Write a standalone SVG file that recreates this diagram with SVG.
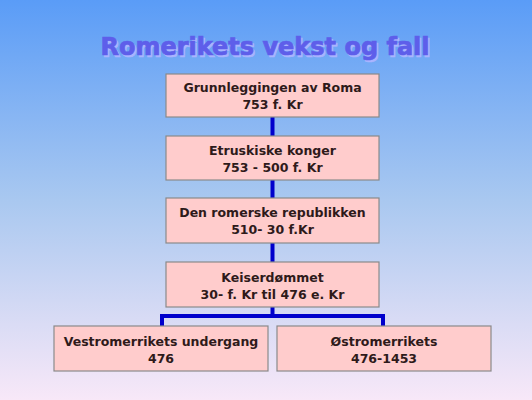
<svg xmlns="http://www.w3.org/2000/svg" width="532" height="400" viewBox="0 0 532 400">
<defs>
<linearGradient id="bg" x1="0" y1="0" x2="0" y2="1">
<stop offset="0" stop-color="#5a9cf7"/>
<stop offset="0.5" stop-color="#a9c8f0"/>
<stop offset="1" stop-color="#f8e8f8"/>
</linearGradient>
</defs>
<style>
.box{fill:#ffcccc;stroke:#8a8a8a;stroke-width:1.2}
.t{font-family:"DejaVu Sans",Verdana,sans-serif;font-weight:bold;font-size:12.5px;fill:#2e1a1a;text-anchor:middle}
.title{font-family:"DejaVu Sans",Verdana,sans-serif;font-weight:bold;font-size:24px;text-anchor:middle;stroke-width:0.7}
.c{stroke:#0000cc;stroke-width:4;fill:none}
</style>
<rect x="0" y="0" width="532" height="400" fill="url(#bg)"/>
<g id="title">
<text class="title" x="266.5" y="56.5" fill="#aab4ff" stroke="#aab4ff">Romerikets vekst og fall</text>
<text class="title" x="265" y="55" fill="#5e5eea" stroke="#5e5eea">Romerikets vekst og fall</text>
</g>
<g id="connectors">
<line class="c" x1="272.5" y1="117" x2="272.5" y2="136"/>
<line class="c" x1="272.5" y1="180" x2="272.5" y2="198"/>
<line class="c" x1="272.5" y1="243" x2="272.5" y2="262"/>
<line class="c" x1="272.5" y1="307" x2="272.5" y2="316"/>
<polyline class="c" points="162,326 162,316 383,316 383,326"/>
</g>
<g id="n1">
<rect class="box" x="166" y="74" width="213" height="43"/>
<text class="t" x="272.5" y="92">Grunnleggingen av Roma</text>
<text class="t" x="272.5" y="109">753 f. Kr</text>
</g>
<g id="n2">
<rect class="box" x="166" y="136" width="213" height="44"/>
<text class="t" x="272.5" y="155">Etruskiske konger</text>
<text class="t" x="272.5" y="172">753 - 500 f. Kr</text>
</g>
<g id="n3">
<rect class="box" x="166" y="198" width="213" height="45"/>
<text class="t" x="272.5" y="217">Den romerske republikken</text>
<text class="t" x="272.5" y="234">510- 30 f.Kr</text>
</g>
<g id="n4">
<rect class="box" x="166" y="262" width="213" height="45"/>
<text class="t" x="272.5" y="282">Keiserdømmet</text>
<text class="t" x="272.5" y="299">30- f. Kr til 476 e. Kr</text>
</g>
<g id="n5">
<rect class="box" x="54" y="326" width="214" height="45"/>
<text class="t" x="161" y="346">Vestromerrikets undergang</text>
<text class="t" x="161" y="363">476</text>
</g>
<g id="n6">
<rect class="box" x="277" y="326" width="214" height="45"/>
<text class="t" x="384" y="346">Østromerrikets</text>
<text class="t" x="384" y="363">476-1453</text>
</g>
</svg>
